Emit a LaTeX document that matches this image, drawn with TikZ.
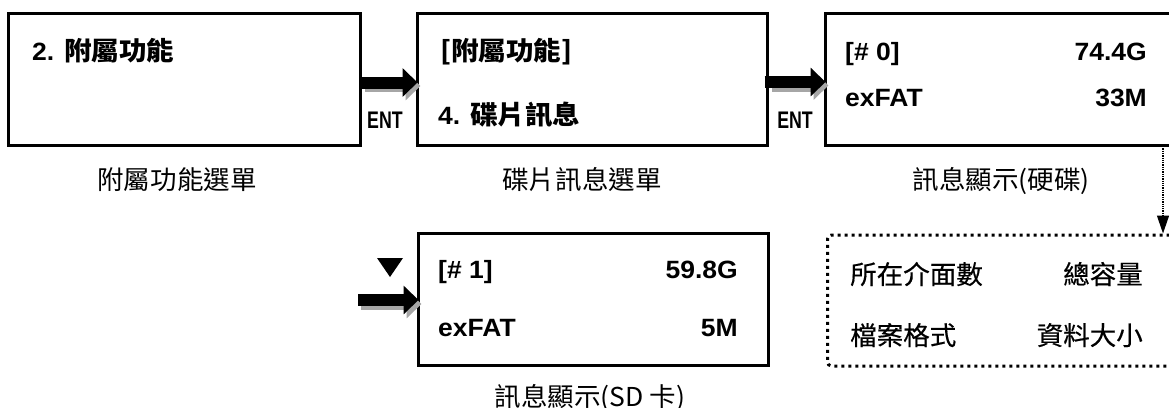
\documentclass[tikz,border=0pt]{standalone}
\usepackage{fontspec}
\usepackage{graphicx}
\setmainfont{Liberation Sans}
\newfontfamily\cjk{Noto Sans CJK TC}
\newfontfamily\cjkm[FakeBold=0.4]{Noto Sans CJK TC}
\usetikzlibrary{arrows.meta,calc}
\newcommand\sx[1]{\scalebox{1.06}[1]{#1}}
\newcommand\scj[1]{\scalebox{1.02}[1]{#1}}
\newcommand\boxcjk{\fontsize{26}{28}\bfseries\cjk}
\tikzset{
  scr/.style={draw, line width=3pt, minimum width=350pt, minimum height=132pt, inner sep=0pt},
  lbl/.style={inner sep=0pt, font=\fontsize{25}{28}\selectfont\bfseries},
  captxt/.style={inner sep=0pt, font=\fontsize{26}{28}\selectfont\cjk},
  infotxt/.style={inner sep=0pt, font=\fontsize{26}{28}\selectfont\cjkm},
  enttxt/.style={inner sep=0pt, font=\fontsize{24}{26}\selectfont\bfseries},
  bigarrow/.style={line width=12pt, -{Triangle[length=15pt 0 0,width=28pt 0 0]}},
  shadowarrow/.style={bigarrow, black!35},
}
\begin{document}
\begin{tikzpicture}[x=1pt,y=-1pt]
\useasboundingbox (0,0) rectangle (1169,407);
\fill[white] (0,0) rectangle (1169,407);

% screens
\node[scr, minimum width=352pt] (b1) at (184,79) {};
\node[scr] (b2) at (592,79) {};
\node[scr, minimum width=356pt] (b3) at (1003,79) {};
\node[scr] (b4) at (593,299) {};
\node[draw, line width=3pt, dash pattern=on 3pt off 4pt, rounded corners=4pt,
      minimum width=353pt, minimum height=131pt, inner sep=0pt] (db) at (1004,300.5) {};

% screen texts
\node[lbl, anchor=base west] (t1) at (32,60) {\sx{2. {\boxcjk 附屬功能}}};
\node[lbl, anchor=base west] (t2a) at (440,60) {\sx{\boxcjk [附屬功能]}};
\node[lbl, anchor=base west] (t2b) at (438,124) {\sx{4. {\boxcjk 碟片訊息}}};
\node[lbl, anchor=base west] (t3a) at (845,60) {\sx{[\# 0]}};
\node[lbl, anchor=base east] (t3b) at (1147,60) {\sx{74.4G}};
\node[lbl, anchor=base west] (t3c) at (845,106) {\sx{exFAT}};
\node[lbl, anchor=base east] (t3d) at (1147,106) {\sx{33M}};
\node[lbl, anchor=base west] (t4a) at (438,278) {\sx{[\# 1]}};
\node[lbl, anchor=base east] (t4b) at (738,278) {\sx{59.8G}};
\node[lbl, anchor=base west] (t4c) at (438,336) {\sx{exFAT}};
\node[lbl, anchor=base east] (t4d) at (738,336) {\sx{5M}};

% dotted box texts
\node[infotxt, anchor=base west] (d1) at (850,284) {\scj{所在介面數}};
\node[infotxt, anchor=base east] (d2) at (1143,284) {\scj{總容量}};
\node[infotxt, anchor=base west] (d3) at (850,345) {\scj{檔案格式}};
\node[infotxt, anchor=base east] (d4) at (1143,345) {\scj{資料大小}};

% captions
\node[captxt, anchor=base] (c1) at (177,189) {\scj{附屬功能選單}};
\node[captxt, anchor=base] (c2) at (582,189) {\scj{碟片訊息選單}};
\node[captxt, anchor=base] (c3) at (1001,189) {\scj{訊息顯示(硬碟)}};
\node[captxt, anchor=base] (c4) at (590,406) {\scj{訊息顯示(SD 卡)}};

% ENT labels
\node[enttxt, anchor=base] (e1) at (385,128) {\scalebox{0.74}[1]{ENT}};
\node[enttxt, anchor=base] (e2) at (795,128) {\scalebox{0.74}[1]{ENT}};

% big arrows
\draw[shadowarrow] ($(b1.east)+(3,7)$) -- ($(b2.west)+(5,7)$);
\draw[bigarrow] ($(b1.east)+(0,3.5)$) -- ($(b2.west)+(2,3.5)$);
\draw[shadowarrow] ($(b2.east)+(3,6.5)$) -- ($(b3.west)+(5,6.5)$);
\draw[bigarrow] ($(b2.east)+(-4,3)$) -- ($(b3.west)+(2,3)$);
\coordinate (a3) at (358,300);
\draw[shadowarrow] ($(a3)+(3,4)$) -- ($(b4.west)+(5,5)$);
\draw[bigarrow] (a3) -- ($(b4.west)+(2,1)$);

% down triangle
\fill (377,258) -- (403,258) -- (390,277) -- cycle;

% dotted connector
\coordinate (dc) at (1163,146);
\draw[densely dotted, line width=1.3pt, -{Triangle[length=18pt 0 0,width=12pt 0 0]}] (dc) -- (dc |- db.north);
\end{tikzpicture}
\end{document}
